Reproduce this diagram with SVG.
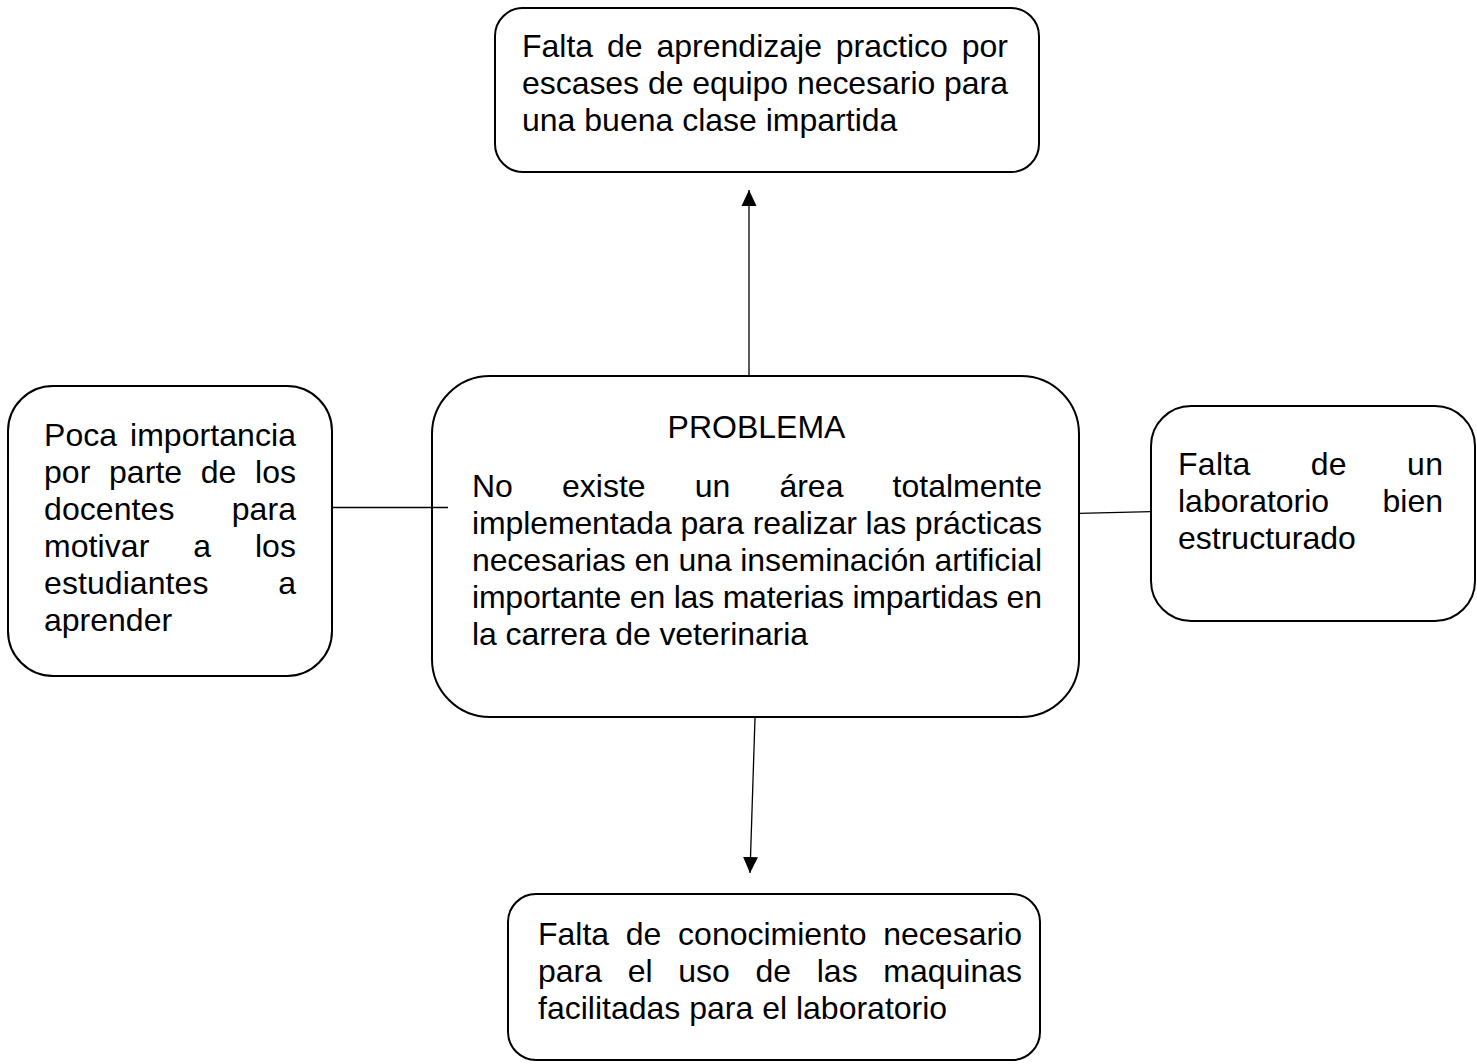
<svg xmlns="http://www.w3.org/2000/svg" width="1477" height="1064" viewBox="0 0 1477 1064">
<style>
.box{fill:#fff;stroke:#000;stroke-width:2}
.t{font-family:"Liberation Sans",Arial,sans-serif;font-size:32px;fill:#000}
.c{stroke:#000;stroke-width:1.3;fill:none}
</style>
<defs>
<marker id="ah" markerUnits="userSpaceOnUse" markerWidth="16" markerHeight="17" viewBox="0 0 16 17" refX="16" refY="8.5" orient="auto">
<path d="M0,1 L16,8.5 L0,16 Z" fill="#000"/>
</marker>
</defs>
<rect width="1477" height="1064" fill="#fff"/>
<g id="top">
<rect class="box" x="495" y="8" width="544" height="164" rx="28"/>
<text class="t" x="522" y="57" word-spacing="5" textLength="486">Falta de aprendizaje practico por</text>
<text class="t" x="522" y="94" textLength="486">escases de equipo necesario para</text>
<text class="t" x="522" y="131">una buena clase impartida</text>
</g>
<g id="center">
<rect class="box" x="432" y="376" width="647" height="341" rx="58"/>
<text class="t" x="756.5" y="438" text-anchor="middle">PROBLEMA</text>
<text class="t" x="472" y="497" word-spacing="40.2" textLength="570">No existe un área totalmente</text>
<text class="t" x="472" y="534" textLength="570">implementada para realizar las prácticas</text>
<text class="t" x="472" y="571" textLength="570">necesarias en una inseminación artificial</text>
<text class="t" x="472" y="608" textLength="570">importante en las materias impartidas en</text>
<text class="t" x="472" y="645" textLength="336">la carrera de veterinaria</text>
</g>
<g id="left">
<rect class="box" x="8" y="386" width="324" height="290" rx="45"/>
<text class="t" x="44" y="446" word-spacing="3.8" textLength="252">Poca importancia</text>
<text class="t" x="44" y="483" word-spacing="9.6" textLength="252">por parte de los</text>
<text class="t" x="44" y="520" word-spacing="48.2" textLength="252">docentes para</text>
<text class="t" x="44" y="557" word-spacing="34.8" textLength="252">motivar a los</text>
<text class="t" x="44" y="594" word-spacing="60.7" textLength="252">estudiantes a</text>
<text class="t" x="44" y="631">aprender</text>
</g>
<g id="right">
<rect class="box" x="1151" y="406" width="324" height="215" rx="40"/>
<text class="t" x="1178" y="475" word-spacing="51" textLength="265">Falta de un</text>
<text class="t" x="1178" y="512" word-spacing="44.5" textLength="265">laboratorio bien</text>
<text class="t" x="1178" y="549">estructurado</text>
</g>
<g id="bottom">
<rect class="box" x="508" y="894" width="532" height="166" rx="28"/>
<text class="t" x="538" y="945" word-spacing="7.8" textLength="484">Falta de conocimiento necesario</text>
<text class="t" x="538" y="982" word-spacing="16.8" textLength="484">para el uso de las maquinas</text>
<text class="t" x="538" y="1019">facilitadas para el laboratorio</text>
</g>
<g id="connectors">
<line class="c" x1="749" y1="375" x2="749" y2="190" marker-end="url(#ah)"/>
<line class="c" x1="755" y1="718" x2="750" y2="873" marker-end="url(#ah)"/>
<line class="c" x1="332" y1="507.5" x2="448" y2="507.5"/>
<line class="c" x1="1079" y1="513.3" x2="1151" y2="511.7"/>
</g>
</svg>
